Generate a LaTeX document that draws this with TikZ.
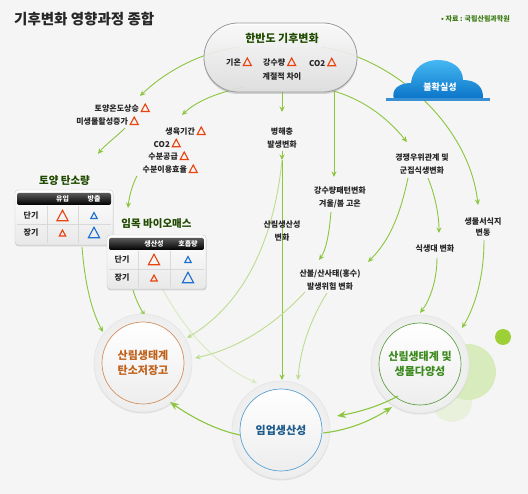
\documentclass[tikz,border=0pt]{standalone}
\usepackage{fontspec}
\setmainfont{Noto Sans CJK KR}
\usetikzlibrary{arrows.meta,shadows}
\definecolor{bg}{HTML}{F5F5F5}
\definecolor{lg}{HTML}{8CC63F}
\definecolor{lgf}{HTML}{BEDC8E}
\definecolor{lgff}{HTML}{D8EAC0}
\definecolor{dkgreen}{HTML}{1F4A00}
\definecolor{txt}{HTML}{262626}
\definecolor{trir}{HTML}{E8440E}
\definecolor{trib}{HTML}{1A6FD0}
\definecolor{carb}{HTML}{C0621C}
\definecolor{prodc}{HTML}{1C5A8C}
\definecolor{prodb}{HTML}{5AA2D2}
\definecolor{bioc}{HTML}{3C8A1E}
\definecolor{cloudtop}{HTML}{45B8F2}
\definecolor{cloudbot}{HTML}{0A74C8}
\definecolor{srcgreen}{HTML}{3A7A10}
\newcommand{\trired}[1][1]{\tikz[baseline=-0.3pt]\draw[trir,line width=1.1pt,line join=miter] (0pt,0pt)--(#1*8pt,0pt)--(#1*4pt,#1*7.5pt)--cycle;}
\newcommand{\triblue}[1][1]{\tikz[baseline=-0.3pt]\draw[trib,line width=1.1pt,line join=miter] (0pt,0pt)--(#1*8pt,0pt)--(#1*4pt,#1*7.5pt)--cycle;}
\tikzset{
  lbl/.style={align=center, text=txt, font=\bfseries\fontsize{8}{13}\selectfont},
  arr/.style={draw=lg, line width=0.9pt, -{Stealth[length=5.5pt,width=5pt]}},
  arrf/.style={arr, draw=lgf},
  arrff/.style={arr, draw=lgff},
  barr/.style={draw=lg, line width=1.1pt, -{Stealth[length=9pt,width=7pt]}},
  ring/.style={circle, minimum size=98pt, inner sep=0pt, draw=black!10, line width=0.6pt, inner color=white, outer color=black!7, drop shadow={opacity=0.18, shadow xshift=0pt, shadow yshift=-1.5pt}},
  core/.style={circle, minimum size=82pt, inner sep=0pt, top color=white, bottom color=black!7, line width=0.7pt, align=center, font=\bfseries\fontsize{11}{15}\selectfont},
  tbox/.style={rounded corners=3pt, draw=black!22, top color=white, bottom color=black!9, drop shadow={opacity=0.25, shadow xshift=0.5pt, shadow yshift=-1.5pt}},
  thead/.style={rounded corners=2pt, top color=black!65, bottom color=black},
  hd/.style={text=white, font=\bfseries\fontsize{7}{8}\selectfont},
  rl/.style={text=txt, font=\bfseries\fontsize{8}{9}\selectfont},
  tgrid/.style={draw=black!15, line width=0.6pt},
  ttl/.style={text=dkgreen, font=\bfseries\fontsize{10.5}{12}\selectfont}
}
\begin{document}
\begin{tikzpicture}[x=1pt,y=-1pt, every node/.style={inner sep=0pt}]
\useasboundingbox (0,0) rectangle (528,494);
\fill[bg] (0,0) rectangle (528,494);

% title and source
\node[anchor=west, font=\bfseries\fontsize{14.5}{16}\selectfont, text=black!85] (title) at (14,19) {기후변화 영향과정 종합};
\node[anchor=east, font=\bfseries\fontsize{7}{8}\selectfont, text=srcgreen] (src) at (510,19) {• 자료 : 국립산림과학원};

% decorative circles
\fill[fill=lgff!70, opacity=0.7] (452,402) circle (20);
\fill[fill=lg!35] (468,372) circle (28);
\fill[fill=lg!85!yellow] (503,337) circle (8);

% coordinates for connector ends
\coordinate (a1s) at (240,47);  \coordinate (a1e) at (140,96);
\coordinate (a14s) at (322,47); \coordinate (a14e) at (478,205);
\coordinate (a3s) at (245,87);  \coordinate (a3e) at (182,115);
\coordinate (a10s) at (330,90); \coordinate (a10e) at (407,142);
\coordinate (a5s) at (282,92);  \coordinate (a5e) at (282,112);
\coordinate (a6s) at (282,151); \coordinate (a6m) at (282,160); \coordinate (a6e) at (282,380);
\coordinate (a7s) at (334,92);  \coordinate (a7e) at (334,177);
\coordinate (a8s) at (331,212); \coordinate (a8e) at (319,260);
\coordinate (a9s) at (327,293); \coordinate (a9e) at (298,380);
\coordinate (a11s) at (408,178); \coordinate (a11e) at (368,262);
\coordinate (a12s) at (428,178); \coordinate (a12e) at (439,233);
\coordinate (a13s) at (437,258); \coordinate (a13e) at (420,313);
\coordinate (a15s) at (484,240); \coordinate (a15e) at (462,328);
\coordinate (a2s) at (125,128); \coordinate (a2e) at (98,154);
\coordinate (a4s) at (137,176); \coordinate (a4e) at (128,208);
\coordinate (a16s) at (82,247); \coordinate (a16e) at (103,332);
\coordinate (a17s) at (133,290); \coordinate (a17e) at (145,316);
\coordinate (a18s) at (163,290); \coordinate (a18e) at (257,383);
\coordinate (a19e) at (187,338);
\coordinate (a20s) at (305,292); \coordinate (a20e) at (195,358);

% arcs and connectors
\draw[arr] (a1s) .. controls (200,52) and (165,72) .. (a1e);
\draw[arr] (a14s) .. controls (400,60) and (470,130) .. (a14e);
\draw[arr] (a3s) .. controls (220,92) and (198,100) .. (a3e);
\draw[arr] (a10s) .. controls (360,98) and (385,115) .. (a10e);
\draw[arr] (a5s) -- (a5e);
\draw[arr] (a7s) -- (a7e);
\draw[arr] (a6s) -- (a6m);
\draw[arr] (a6m) -- (a6e);
\draw[arr] (a8s) .. controls (329,235) and (326,250) .. (a8e);
\draw[arrf] (a9s) .. controls (310,320) and (300,350) .. (a9e);
\draw[arr] (a11s) .. controls (400,215) and (390,240) .. (a11e);
\draw[arr] (a12s) .. controls (435,195) and (439,215) .. (a12e);
\draw[arr] (a13s) .. controls (437,280) and (430,300) .. (a13e);
\draw[arr] (a15s) .. controls (484,275) and (476,305) .. (a15e);
\draw[arr] (a2s) .. controls (115,138) and (105,145) .. (a2e);
\draw[arr] (a4s) .. controls (132,185) and (129,198) .. (a4e);
\draw[arr] (a16s) .. controls (85,285) and (92,312) .. (a16e);
\draw[arr] (a17s) .. controls (136,300) and (140,308) .. (a17e);
\draw[arrff] (a18s) .. controls (185,330) and (215,365) .. (a18e);
\draw[arrf] (a6m) .. controls (275,230) and (250,300) .. (a19e);
\draw[arrf] (a20s) .. controls (270,330) and (232,350) .. (a20e);

% top pill
\node[draw=black!40, line width=0.8pt, rounded corners=34pt, minimum width=153pt, minimum height=69pt,
      top color=white, bottom color=black!12, fill opacity=0.88,
      drop shadow={opacity=0.3, shadow xshift=0pt, shadow yshift=-2pt}] (top) at (280.5,57.5) {};
\node[font=\bfseries\fontsize{11}{13}\selectfont, text=dkgreen] (toptitle) at (282,38) {한반도 기후변화};
\node[anchor=west, lbl, font=\bfseries\fontsize{8}{9}\selectfont] (t_ta) at (226,62) {기온 \trired};
\node[anchor=west, lbl, font=\bfseries\fontsize{8}{9}\selectfont] (t_pr) at (263,62) {강수량 \trired};
\node[anchor=west, lbl, font=\bfseries\fontsize{8}{9}\selectfont] (t_co) at (309,62) {CO2 \trired};
\node[lbl, font=\bfseries\fontsize{8}{9}\selectfont] (t_se) at (282,77) {계절적 차이};

% cloud
\shade[top color=cloudtop, bottom color=cloudbot] (394,99) .. controls (391,90) and (398,83) .. (411,83)
  .. controls (413,67) and (425,60) .. (438,60) .. controls (452,60) and (463,68) .. (463,80)
  .. controls (476,80) and (484,87) .. (483,99) -- cycle;
\fill[cloudbot!80] (386,98.5) rectangle (490,101);
\node[text=white, font=\bfseries\fontsize{9}{10}\selectfont] (cloud) at (440,87) {불확실성};

% left labels
\node[anchor=east, lbl] (l1) at (150,108) {토양온도상승 \trired};
\node[anchor=east, lbl] (l2) at (139,121) {미생물활성증가 \trired};
\node[anchor=east, lbl] (l3) at (206,131) {생육기간 \trired};
\node[anchor=east, lbl] (l4) at (181,143) {CO2 \trired};
\node[anchor=east, lbl] (l5) at (189,156) {수분공급 \trired};
\node[anchor=east, lbl] (l6) at (198,169) {수분이용효율 \trired};

% middle labels
\node[lbl] (bhc) at (282,138.5) {병해충\\발생변화};
\node[lbl] (rain) at (340,197) {강수량패턴변화\\겨울/봄 고온};
\node[lbl] (comp) at (422,164) {경쟁우위관계 및\\군집식생변화};
\node[lbl] (fprod) at (282,231.5) {산림생산성\\변화};
\node[lbl, font=\bfseries\fontsize{8}{11}\selectfont] (hab) at (483,227.5) {생물서식지\\변동};
\node[lbl] (veg) at (435,249) {식생대 변화};
\node[lbl] (fire) at (330,279.5) {산불/산사태(홍수)\\발생위험 변화};

% table 1
\node[ttl] (soil) at (64.5,181) {토양 탄소량};
\node[tbox, minimum width=98pt, minimum height=55pt] (t1) at (64,217.5) {};
\node[thead, minimum width=94pt, minimum height=12pt] (t1h) at (64,199) {};
\node[hd] (t1a) at (62.5,199) {유입};
\node[hd] (t1b) at (94,199) {방출};
\draw[tgrid] (47,206) -- (47,243) (78,206) -- (78,243) (17,224.5) -- (111,224.5);
\node[rl] (t1r1) at (31,216) {단기};
\node[rl] (t1r2) at (31,233) {장기};
\node (t1c11) at (62.5,215.5) {\trired[1.4]};
\node (t1c12) at (94,215.5) {\triblue[0.8]};
\node (t1c21) at (62.5,233) {\trired[0.8]};
\node (t1c22) at (94,232.5) {\triblue[1.4]};

% table 2
\node[ttl] (bio2) at (156.5,224) {임목 바이오매스};
\node[tbox, minimum width=99pt, minimum height=54pt] (t2) at (156.5,262) {};
\node[thead, minimum width=95pt, minimum height=12pt] (t2h) at (156.5,244) {};
\node[hd] (t2a) at (154,244) {생산성};
\node[hd] (t2b) at (188,244) {호흡량};
\draw[tgrid] (138,251) -- (138,287) (170,251) -- (170,287) (109,269) -- (204,269);
\node[rl] (t2r1) at (122,260) {단기};
\node[rl] (t2r2) at (122,278) {장기};
\node (t2c11) at (154,259.5) {\trired[1.4]};
\node (t2c12) at (188,259.5) {\triblue[0.8]};
\node (t2c21) at (154,278) {\trired[0.8]};
\node (t2c22) at (188,277.5) {\triblue[1.4]};

% circles
\node[ring] (carbonR) at (143,363) {};
\node[core, draw=carb!70, text=carb] (carbon) at (143,363) {산림생태계\\탄소저장고};
\node[ring] (prodR) at (281,430) {};
\node[core, draw=prodb, text=prodc] (prod) at (281,430) {임업생산성};
\node[ring] (bioR) at (420,364) {};
\node[core, draw=bioc!80, text=bioc] (bio) at (420,364) {산림생태계 및\\생물다양성};

% bottom arrows
\coordinate (b1s) at (240,435); \coordinate (b1e) at (170,402);
\coordinate (b2s) at (323,433); \coordinate (b2e) at (392,407);
\coordinate (b3s) at (398,396); \coordinate (b3e) at (337,416);
\draw[barr] (b1s) .. controls (215,430) and (190,416) .. (b1e);
\draw[barr] (b2s) .. controls (350,430) and (372,420) .. (b2e);
\draw[barr] (b3s) .. controls (382,405) and (360,412) .. (b3e);
\end{tikzpicture}
\end{document}
